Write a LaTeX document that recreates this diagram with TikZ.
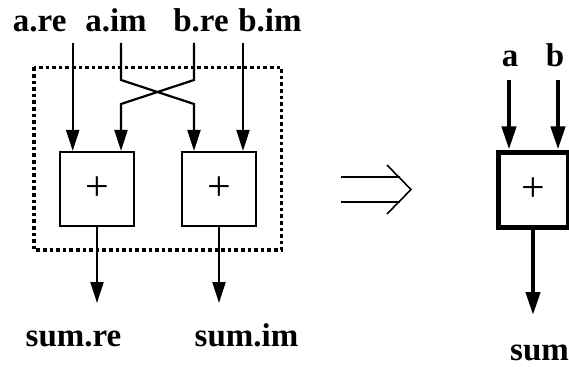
\documentclass[tikz,border=0pt]{standalone}
\usepackage{fontspec}
\setmainfont{Liberation Serif}
\usetikzlibrary{arrows.meta}
\begin{document}
\begin{tikzpicture}[x=1pt,y=-1pt,
  lbl/.style={font=\fontsize{33}{40}\selectfont\bfseries, inner sep=0pt, anchor=base},
  adder/.style={draw, line width=2.2pt, minimum width=74pt, minimum height=74pt, inner sep=0pt,
     font=\fontsize{42}{48}\selectfont},
  bigadder/.style={draw, line width=5pt, minimum width=70pt, minimum height=75pt, inner sep=0pt,
     font=\fontsize{42}{48}\selectfont},
  thinarr/.style={line width=2.2pt, -{Triangle[length=21pt,width=13pt]}},
  thickarr/.style={line width=4.2pt, -{Triangle[length=23pt,width=14pt]}},
  dotbox/.style={line width=3.6pt, dash pattern=on 3.6pt off 3pt},
]
\useasboundingbox (0,0) rectangle (569,366);

% dotted enclosure
\draw[dotbox] (34,67.5) rectangle (281.5,250);

% adders
\node[adder] (add1) at (97,189) {+};
\node[adder] (add2) at (219,189) {+};

% input labels
\node[lbl] (lare) at (39.7,32) {a.re};
\node[lbl] (laim) at (116,32) {a.im};
\node[lbl] (lbre) at (201,32) {b.re};
\node[lbl] (lbim) at (270,32) {b.im};

% input start points
\coordinate (s1) at (72.7,43);
\coordinate (s2) at (121,43);
\coordinate (s3) at (194,43);
\coordinate (s4) at (243,43);
\coordinate (k1) at (121,80);
\coordinate (k2) at (194,80);
\coordinate (k3) at (121,104);
\coordinate (k4) at (194,104);

\draw[thinarr] (s1) -- (add1.north -| s1);
\draw[thinarr] (s2) -- (k1) -- (k4) -- (add2.north -| s3);
\draw[thinarr] (s3) -- (k2) -- (k3) -- (add1.north -| s2);
\draw[thinarr] (s4) -- (add2.north -| s4);

% outputs
\coordinate (o1) at (97,303);
\coordinate (o2) at (219,303);
\draw[thinarr] (add1.south) -- (o1);
\draw[thinarr] (add2.south) -- (o2);
\node[lbl] (lsre) at (73.5,346.7) {sum.re};
\node[lbl] (lsim) at (246.5,346.7) {sum.im};

% implies arrow
\draw[line width=1.6pt] (341,177) -- (399.5,177);
\draw[line width=1.6pt] (341,202) -- (399.5,202);
\draw[line width=1.6pt, line join=miter] (387,165) -- (411,189.5) -- (387,214);

% simplified adder
\node[bigadder] (add3) at (533,189.5) {+};
\node[lbl] (la) at (510,66.7) {a};
\node[lbl] (lb) at (555,66.7) {b};
\coordinate (t1) at (509,80);
\coordinate (t2) at (558,80);
\draw[thickarr] (t1) -- (add3.north -| t1);
\draw[thickarr] (t2) -- (add3.north -| t2);
\coordinate (o3) at (533,315);
\draw[thickarr] (add3.south) -- (o3);
\node[lbl, anchor=base west] (lsum) at (510,360) {sum};
\end{tikzpicture}
\end{document}
